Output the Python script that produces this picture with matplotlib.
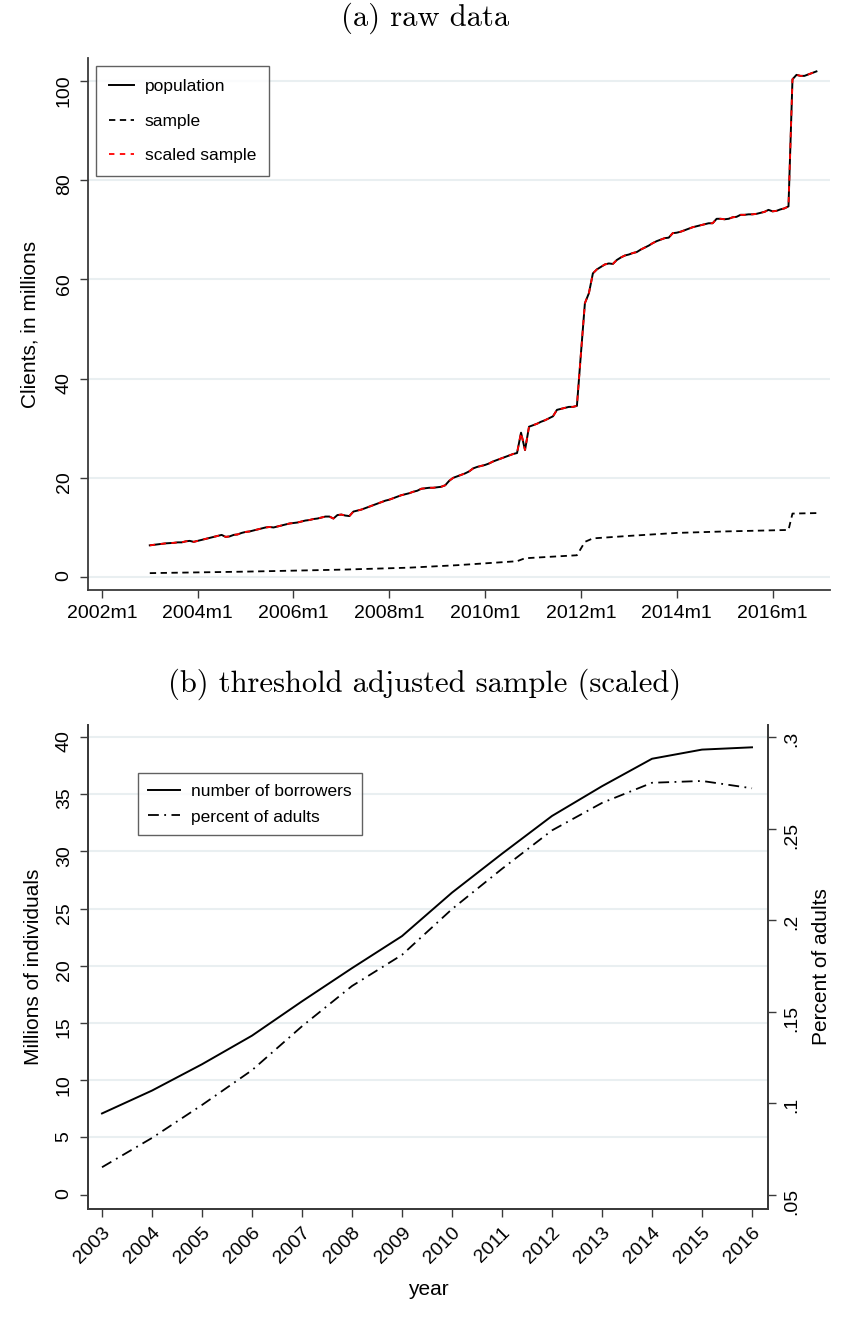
# Clients over time: raw data and threshold adjusted sample

import matplotlib
matplotlib.use("Agg")
from matplotlib import pyplot as plt

plt.rcParams['font.family'] = ['Liberation Sans', 'DejaVu Sans']

# (a) raw data -- monthly, 2003m1 .. 2016m12, millions of clients
months = ['%dm%d' % (y, m) for y in range(2003, 2017) for m in range(1, 13)]
population = [
    6.4, 6.5, 6.6, 6.7, 6.8, 6.85, 6.9, 7.0, 7.0, 7.2, 7.3, 7.1,              # 2003
    7.3, 7.5, 7.7, 7.9, 8.1, 8.3, 8.5, 8.1, 8.2, 8.5, 8.6, 8.9,               # 2004
    9.1, 9.2, 9.4, 9.6, 9.8, 10.0, 10.1, 10.0, 10.2, 10.4, 10.6, 10.8,        # 2005
    10.9, 11.0, 11.2, 11.4, 11.5, 11.7, 11.8, 12.0, 12.2, 12.2, 11.8, 12.5,   # 2006
    12.6, 12.4, 12.3, 13.2, 13.4, 13.6, 13.9, 14.2, 14.5, 14.8, 15.1, 15.4,   # 2007
    15.6, 15.9, 16.2, 16.5, 16.7, 16.9, 17.2, 17.4, 17.8, 17.9, 18.0, 18.0,   # 2008
    18.1, 18.2, 18.5, 19.4, 20.0, 20.3, 20.6, 20.9, 21.3, 21.9, 22.2, 22.4,   # 2009
    22.6, 22.9, 23.3, 23.6, 23.9, 24.2, 24.5, 24.8, 25.0, 29.1, 25.6, 30.3,   # 2010
    30.6, 30.9, 31.3, 31.6, 32.0, 32.4, 33.7, 33.9, 34.1, 34.3, 34.3, 34.5,   # 2011
    45.0, 55.2, 57.2, 61.2, 62.0, 62.5, 63.0, 63.2, 63.1, 63.9, 64.4, 64.8,   # 2012
    65.0, 65.3, 65.5, 66.0, 66.4, 66.8, 67.3, 67.7, 68.0, 68.3, 68.4, 69.3,   # 2013
    69.4, 69.6, 69.9, 70.2, 70.5, 70.7, 70.9, 71.1, 71.3, 71.3, 72.2, 72.2,   # 2014
    72.1, 72.2, 72.5, 72.6, 73.0, 73.0, 73.1, 73.1, 73.2, 73.4, 73.6, 74.0,   # 2015
    73.7, 73.8, 74.1, 74.3, 74.7, 100.3, 101.2, 101.0, 101.0, 101.3, 101.6, 101.9,  # 2016
]
# scaled sample sits right on top of the population line
scaled_sample = list(population)

sample_months = ['2003m1', '2005m1', '2007m1', '2008m6', '2009m6', '2010m9', '2010m11',
                 '2011m12', '2012m2', '2012m4', '2013m1', '2014m1', '2015m1', '2016m5',
                 '2016m6', '2016m12']
sample = [0.8, 1.1, 1.5, 1.9, 2.4, 3.2, 3.8, 4.4, 7.1, 7.8, 8.3, 8.9, 9.2, 9.5, 12.8, 12.9]

xticks_a = [2002, 2004, 2006, 2008, 2010, 2012, 2014, 2016]
xticklabels_a = ['2002m1', '2004m1', '2006m1', '2008m1', '2010m1', '2012m1', '2014m1', '2016m1']
yticks_a = [0, 20, 40, 60, 80, 100]

# (b) threshold adjusted sample (scaled) -- yearly
years = list(range(2003, 2017))
borrowers = [7.1, 9.1, 11.4, 13.9, 16.9, 19.8, 22.6, 26.4, 29.8, 33.1, 35.7, 38.1, 38.9, 39.1]
pct_adults = [0.065, 0.081, 0.099, 0.118, 0.142, 0.164, 0.181, 0.206, 0.228, 0.249,
              0.264, 0.275, 0.276, 0.272]
yticks_b = [0, 5, 10, 15, 20, 25, 30, 35, 40]
rticks_b = [0.05, 0.1, 0.15, 0.2, 0.25, 0.3]
rticklabels_b = ['.05', '.1', '.15', '.2', '.25', '.3']

GRID = '#e9eff1'
SPINE = '#3a3a3a'


def month_to_year(s):
    y, m = s.split('m')
    return int(y) + (int(m) - 1) / 12.0


def style_axes(ax):
    ax.spines['top'].set_visible(False)
    for sp in ax.spines.values():
        sp.set_color(SPINE)
        sp.set_linewidth(1.3)
    ax.tick_params(direction='out', length=6, width=1.0, color=SPINE,
                   labelsize=14, pad=5)


W, H = 850, 1322
fig = plt.figure(figsize=(W / 100, H / 100), dpi=100)
fig.patch.set_facecolor('white')

# ---------------- (a) ----------------
ax1 = fig.add_axes([88 / W, 1 - 590 / H, 742 / W, 532 / H])
style_axes(ax1)
ax1.spines['right'].set_visible(False)

x_pop = [month_to_year(m) for m in months]
x_smp = [month_to_year(m) for m in sample_months]

for v in yticks_a:
    ax1.axhline(v, color=GRID, lw=1.5, zorder=0)
ax1.plot(x_pop, population, color='black', lw=1.4, label='population', zorder=3)
ax1.plot(x_smp, sample, color='black', lw=1.3, linestyle=(0, (3.5, 2.5)),
         label='sample', zorder=3)
ax1.plot(x_pop, scaled_sample, color='red', lw=1.3, linestyle=(0, (3, 3)),
         label='scaled sample', zorder=4)

ax1.set_xlim(2001.71, 2017.2)
ax1.set_ylim(-2.6, 104.6)
ax1.set_xticks(xticks_a)
ax1.set_xticklabels(xticklabels_a)
ax1.set_yticks(yticks_a)
ax1.tick_params(axis='y', labelrotation=90)
ax1.set_ylabel('Clients, in millions', fontsize=15)
ax1.yaxis.set_label_coords((39 - 88) / 742, 0.5)

leg1 = ax1.legend(loc='upper left', bbox_to_anchor=(0.0108, 0.985), borderaxespad=0,
                  fontsize=12.5, frameon=True, fancybox=False, labelspacing=1.12,
                  handlelength=1.45, handletextpad=0.6, borderpad=0.75)
leg1.get_frame().set_edgecolor(SPINE)
leg1.get_frame().set_linewidth(1.0)

fig.text(0.5, 1 - 18 / H, '(a) raw data', ha='center', va='center',
         fontsize=22, family='cmr10')

# ---------------- (b) ----------------
ax2 = fig.add_axes([88 / W, 1 - 1209 / H, 680 / W, 484 / H])
style_axes(ax2)
ax2r = ax2.twinx()
style_axes(ax2r)

for v in yticks_b:
    if v > 0:
        ax2.axhline(v, color=GRID, lw=1.5, zorder=0)
l1, = ax2.plot(years, borrowers, color='black', lw=1.4, label='number of borrowers')
l2, = ax2r.plot(years, pct_adults, color='black', lw=1.3,
                linestyle=(0, (6, 3, 1, 3)), label='percent of adults')

lo, hi = -1.25, 41.05
ax2.set_ylim(lo, hi)
ax2r.set_ylim(0.05 + lo * 0.00625, 0.05 + hi * 0.00625)
ax2.set_xlim(2002.72, 2016.32)
ax2.set_xticks(years)
ax2.set_xticklabels([str(y) for y in years], rotation=45, ha='right',
                    rotation_mode='anchor')
ax2.set_yticks(yticks_b)
ax2.tick_params(axis='y', labelrotation=90)
ax2r.set_yticks(rticks_b)
ax2r.set_yticklabels(rticklabels_b)
ax2r.tick_params(axis='y', labelrotation=90)

ax2.set_ylabel('Millions of individuals', fontsize=15)
ax2.yaxis.set_label_coords((43 - 88) / 680, 0.5)
ax2r.set_ylabel('Percent of adults', fontsize=15)
ax2r.yaxis.set_label_coords((812 - 88) / 680, 0.5)
ax2.set_xlabel('year', fontsize=15)
ax2.xaxis.set_label_coords(0.5, -(1280 - 1209) / 484)

leg2 = ax2r.legend([l1, l2], ['number of borrowers', 'percent of adults'],
                   loc='upper left', bbox_to_anchor=(0.0735, 0.90), borderaxespad=0,
                   fontsize=12.5, frameon=True, fancybox=False, labelspacing=0.6,
                   handlelength=1.8, handletextpad=0.65, borderpad=0.6)
leg2.get_frame().set_edgecolor(SPINE)
leg2.get_frame().set_linewidth(1.0)

fig.text(0.5, 1 - 684 / H, '(b) threshold adjusted sample (scaled)', ha='center',
         va='center', fontsize=22, family='cmr10')

fig.savefig('out.png', dpi=100)
